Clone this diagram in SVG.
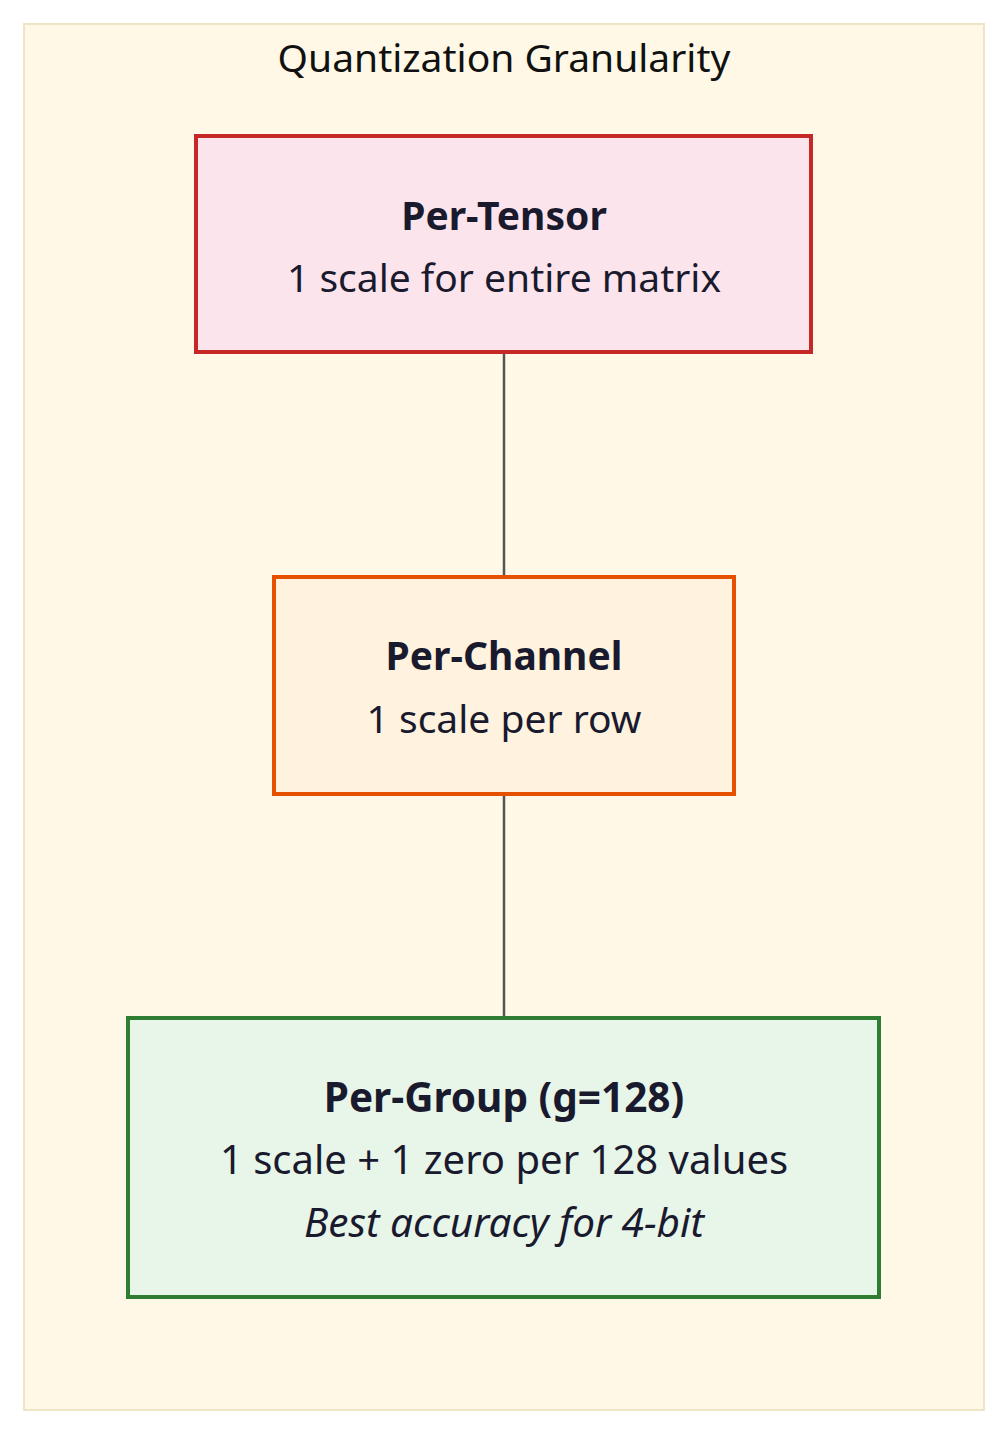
<svg xmlns="http://www.w3.org/2000/svg" width="1008" height="1434" viewBox="0 0 1008 1434">
<style>
.t{font-family:"Noto Sans","Open Sans","DejaVu Sans",sans-serif;fill:#1a1a2e;text-anchor:middle;font-size:39px}
.b{font-weight:bold}
.i{font-style:italic}
.node{stroke-width:4}
.edge{stroke:#555;stroke-width:2.5;fill:none}
</style>
<rect width="1008" height="1434" fill="#ffffff"/>
<g id="cluster">
<rect x="24" y="24" width="960" height="1386" fill="#fff8e6" stroke="#efe5c5" stroke-width="2"/>
<text class="t" x="504" y="72" style="fill:#111">Quantization Granularity</text>
</g>
<g id="connectors">
<line class="edge" x1="504" y1="352" x2="504" y2="577"/>
<line class="edge" x1="504" y1="794" x2="504" y2="1018"/>
</g>
<g id="per-tensor">
<rect class="node" x="196" y="136" width="615" height="216" fill="#fce4ec" stroke="#c62828"/>
<text class="t b" x="504" y="230">Per-Tensor</text>
<text class="t" x="504" y="292">1 scale for entire matrix</text>
</g>
<g id="per-channel">
<rect class="node" x="274" y="577" width="460" height="217" fill="#fff3e0" stroke="#e65100"/>
<text class="t b" x="504" y="670">Per-Channel</text>
<text class="t" x="504" y="733">1 scale per row</text>
</g>
<g id="per-group">
<rect class="node" x="128" y="1018" width="751" height="279" fill="#e8f5e9" stroke="#2e7d32"/>
<text class="t b" x="504" y="1112" style="font-size:40.5px">Per-Group (g=128)</text>
<text class="t" x="504" y="1174" style="font-size:40px">1 scale + 1 zero per 128 values</text>
<text class="t i" x="504" y="1237" style="font-size:40.5px">Best accuracy for 4-bit</text>
</g>
</svg>
